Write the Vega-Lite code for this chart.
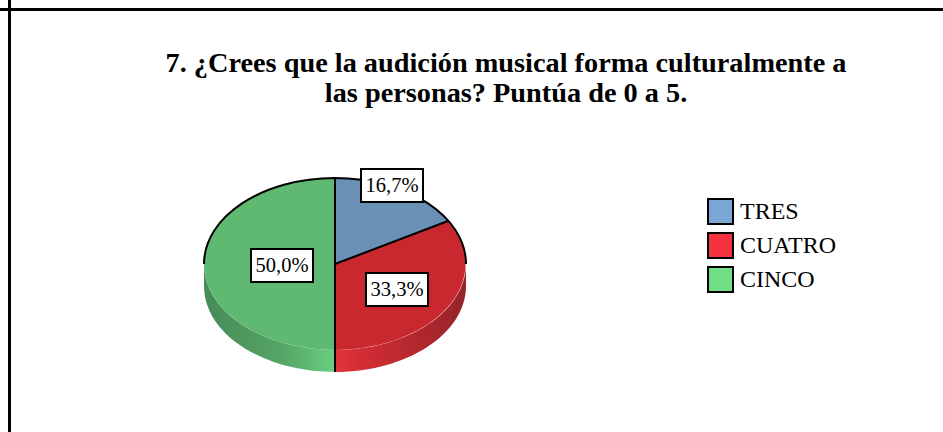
{
"$schema":"https://vega.github.io/schema/vega-lite/v6.json",
"width":943,"height":432,"padding":0,"autosize":{"type":"none"},
"background":"white",
"view":{"stroke":null},
"title":{"text":["7. ¿Crees que la audición musical forma culturalmente a","las personas? Puntúa de 0 a 5.\u00a0\u00a0\u00a0"],"font":"Liberation Serif","fontSize":28.3,"fontWeight":"bold","color":"black","lineHeight":30,"anchor":"middle","frame":"group","dx":34.5,"dy":109.5,"offset":0},
"data":{"values":[{"categoria":"TRES","porcentaje":16.7,"etiqueta":"16,7%"},{"categoria":"CUATRO","porcentaje":33.3,"etiqueta":"33,3%"},{"categoria":"CINCO","porcentaje":50.0,"etiqueta":"50,0%"}]},
"resolve":{"scale":{"x":"independent","y":"independent","shape":"independent","fill":"independent"}},
"layer":[
{"mark":{"type":"rule","color":"black","strokeWidth":3},"data":{"values":[{"borde":9.5}]},"encoding":{"x":{"field":"borde","type":"quantitative","axis":null,"scale":{"domain":[0,943],"range":[0,943]}}}},
{"mark":{"type":"rule","color":"black","strokeWidth":3},"data":{"values":[{"borde":9.5}]},"encoding":{"y":{"field":"borde","type":"quantitative","axis":null,"scale":{"domain":[0,432],"range":[0,432]}}}},
{"mark":{"type":"point","filled":true,"opacity":1,"size":4,"strokeWidth":0,"color":{"gradient":"linear","x1":0,"x2":1,"y1":0,"y2":0,"stops":[{"offset":0,"color":"#E2333A"},{"offset":0.35,"color":"#C82B31"},{"offset":1,"color":"#94242A"}]},"shape":"M131,0 A131,86 0 0 1 0,86 L0,108 A131,86 0 0 0 131,22 Z"},"data":{"values":[{"categoria":"CUATRO"}]},"encoding":{"x":{"datum":335,"axis":null,"scale":{"domain":[0,943],"range":[0,943]}},"y":{"datum":264,"axis":null,"scale":{"domain":[0,432],"range":[0,432]}}}},
{"mark":{"type":"point","filled":true,"opacity":1,"size":4,"strokeWidth":0,"color":{"gradient":"linear","x1":0,"x2":1,"y1":0,"y2":0,"stops":[{"offset":0,"color":"#478A57"},{"offset":0.6,"color":"#55A566"},{"offset":1,"color":"#6ACF80"}]},"shape":"M-131,0 A131,86 0 0 0 0,86 L0,108 A131,86 0 0 1 -131,22 Z"},"data":{"values":[{"categoria":"CINCO"}]},"encoding":{"x":{"datum":335,"axis":null,"scale":{"domain":[0,943],"range":[0,943]}},"y":{"datum":264,"axis":null,"scale":{"domain":[0,432],"range":[0,432]}}}},
{"mark":{"type":"point","filled":true,"opacity":1,"size":4,"strokeWidth":0},"encoding":{
"x":{"datum":335,"axis":null,"scale":{"domain":[0,943],"range":[0,943]}},
"y":{"datum":264,"axis":null,"scale":{"domain":[0,432],"range":[0,432]}},
"shape":{"field":"categoria","type":"nominal","legend":null,"scale":{"domain":["TRES","CUATRO","CINCO"],"range":["M0,0 L0,-86 A131,86 0 0 1 113,-43 Z","M0,0 L113,-43 A131,86 0 0 1 0,86 Z","M0,86 A131,86 0 0 1 0,-86 Z"]}},
"fill":{"field":"categoria","type":"nominal","legend":null,"scale":{"domain":["TRES","CUATRO","CINCO"],"range":["#6A90B6","#C9292E","#5FB970"]}}}},
{"mark":{"type":"point","filled":false,"opacity":1,"size":4,"stroke":"black","strokeWidth":2,"shape":"M-131,0 A131,86 0 0 1 131,0 M0,108 L0,-86 M0,0 L113,-43"},"data":{"values":[{"categoria":"contorno"}]},"encoding":{"x":{"datum":335,"axis":null,"scale":{"domain":[0,943],"range":[0,943]}},"y":{"datum":264,"axis":null,"scale":{"domain":[0,432],"range":[0,432]}}}},
{"mark":{"type":"point","filled":true,"opacity":1,"size":4,"fill":"white","stroke":"black","strokeWidth":2,"shape":"M-31,-16.5 H31 V16.5 H-31 Z"},"encoding":{
"x":{"field":"porcentaje","type":"quantitative","axis":null,"scale":{"domain":[16.7,33.3,50],"range":[392,397,282]}},
"y":{"field":"porcentaje","type":"quantitative","axis":null,"scale":{"domain":[16.7,33.3,50],"range":[185.5,289.5,265.5]}}}},
{"mark":{"type":"text","font":"Liberation Serif","fontSize":20.5,"color":"black","align":"center","baseline":"middle"},"encoding":{
"x":{"field":"porcentaje","type":"quantitative","axis":null,"scale":{"domain":[16.7,33.3,50],"range":[392,397,282]}},
"y":{"field":"porcentaje","type":"quantitative","axis":null,"scale":{"domain":[16.7,33.3,50],"range":[186,290,266]}},
"text":{"field":"etiqueta"}}},
{"mark":{"type":"point","filled":true,"opacity":0,"size":1},"encoding":{
"color":{"field":"categoria","type":"nominal","sort":["TRES","CUATRO","CINCO"],"scale":{"domain":["TRES","CUATRO","CINCO"],"range":["#7BA7D7","#F4333F","#6FDE84"]},"legend":{"title":null,"orient":"none","legendX":707,"legendY":198,"symbolType":"square","symbolSize":625,"symbolOpacity":1,"symbolStrokeColor":"black","symbolStrokeWidth":2,"labelFont":"Liberation Serif","labelFontSize":24,"labelColor":"black","labelOffset":6,"rowPadding":1,"labelLimit":200,"padding":0}}}}
]
}
